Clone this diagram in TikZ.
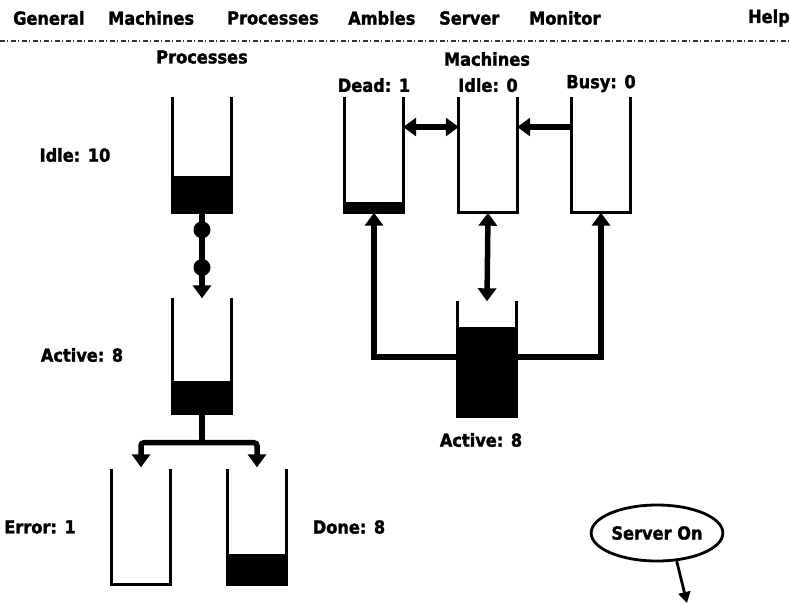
\documentclass[tikz,border=0pt]{standalone}
\usepackage{fontspec}
\setmainfont{DejaVu Sans}[BoldFeatures={FakeBold=1.6,FakeStretch=0.9}]
\usetikzlibrary{positioning,arrows.meta,shapes.geometric}

\tikzset{
  bucket/.style={minimum width=58pt,minimum height=115pt,inner sep=0pt},
  wall/.style={line width=3.2pt,line join=miter},
  flow/.style={line width=5.5pt,-{Triangle[width=18pt,length=13pt]}},
  twoway/.style={line width=5.5pt,{Triangle[width=18pt,length=13pt]}-{Triangle[width=18pt,length=13pt]}},
  dot/.style={circle,fill,inner sep=0pt,minimum size=17pt},
  lbl/.style={font=\bfseries\fontsize{18}{20}\selectfont,inner sep=1pt},
  menu/.style={lbl,anchor=west},
}

\begin{document}
\begin{tikzpicture}[x=1pt,y=-1pt]
  \useasboundingbox (0,0) rectangle (791,603);

  % menu bar
  \node[menu] (mgen) at (12,18) {General};
  \node[menu] (mmac) at (107,18) {Machines};
  \node[menu] (mpro) at (226,18) {Processes};
  \node[menu] (mamb) at (347,18) {Ambles};
  \node[menu] (msrv) at (438,18) {Server};
  \node[menu] (mmon) at (528,18) {Monitor};
  \node[lbl,anchor=east] (mhlp) at (791,18) {Help};
  \draw[line width=1.4pt,black!80,dash pattern=on 5pt off 2pt on 1pt off 3pt] (0,41) -- (791,41);

  % processes
  \node[lbl] (hpro) at (202,57) {Processes};
  \node[bucket] (pidle) at (202,155) {};
  \node[bucket] (pact) at (202,356) {};
  \node[bucket] (perr) at (141,527) {};
  \node[bucket] (pdone) at (257,527) {};
  \node[lbl] (lpidle) at (75,155) {Idle: 10};
  \node[lbl] (lpact) at (82,355) {Active: 8};
  \node[lbl] (lperr) at (40,527) {Error: 1};
  \node[lbl] (lpdone) at (349,527) {Done: 8};

  % machines
  \node[lbl] (hmac) at (487,59) {Machines};
  \node[bucket] (mdead) at (374,155) {};
  \node[bucket] (midle) at (488,155) {};
  \node[bucket] (mbusy) at (601,155) {};
  \node[bucket] (mact) at (487,359) {};
  \node[lbl,above=4pt of mdead] (lmdead) {Dead: 1};
  \node[lbl,above=4pt of midle] (lmidle) {Idle: 0};
  \node[lbl,above=4pt of mbusy] (lmbusy) {Busy: 0};
  \node[lbl] (lmact) at (481,440) {Active: 8};

  % buckets and their levels
  \foreach \b/\h in {pidle/37,pact/33,perr/0,pdone/31,mdead/11,midle/0,mbusy/0,mact/90} {
    \fill (\b.south west) rectangle ([yshift=\h pt]\b.south east);
    \draw[wall] (\b.north west) -- (\b.south west) -- (\b.south east) -- (\b.north east);
  }

  % process flow
  \path (pidle.south) -- (pact.north)
    node[dot,pos=0.2] (dot1) {}
    node[dot,pos=0.64] (dot2) {};
  \draw[flow] (pidle.south) -- (pact.north);
  \coordinate[below=29pt of pact.south] (split);
  \draw[line width=5.5pt] (pact.south) -- (split);
  \draw[flow,rounded corners=3pt] (split) -| ([yshift=2pt]perr.north);
  \draw[flow,rounded corners=3pt] (split) -| ([yshift=2pt]pdone.north);

  % machine flow
  \draw[twoway] ([yshift=28pt]mdead.east) -- ([yshift=28pt]midle.west);
  \draw[flow] ([yshift=28pt]mbusy.west) -- ([yshift=28pt]midle.east);
  \draw[twoway] (midle.south) -- (mact.north);
  \draw[flow] ([yshift=2pt]mact.west) -| (mdead.south);
  \draw[flow] ([yshift=2pt]mact.east) -| (mbusy.south);

  % server
  \node[ellipse,draw,line width=2.8pt,minimum width=130pt,minimum height=56pt,lbl] (srv) at (657,533) {Server On};
  \coordinate (srvend) at (687,603);
  \draw[line width=2.8pt,-{Triangle[width=12pt,length=11pt]}] (srv.-55) -- (srvend);
\end{tikzpicture}
\end{document}
